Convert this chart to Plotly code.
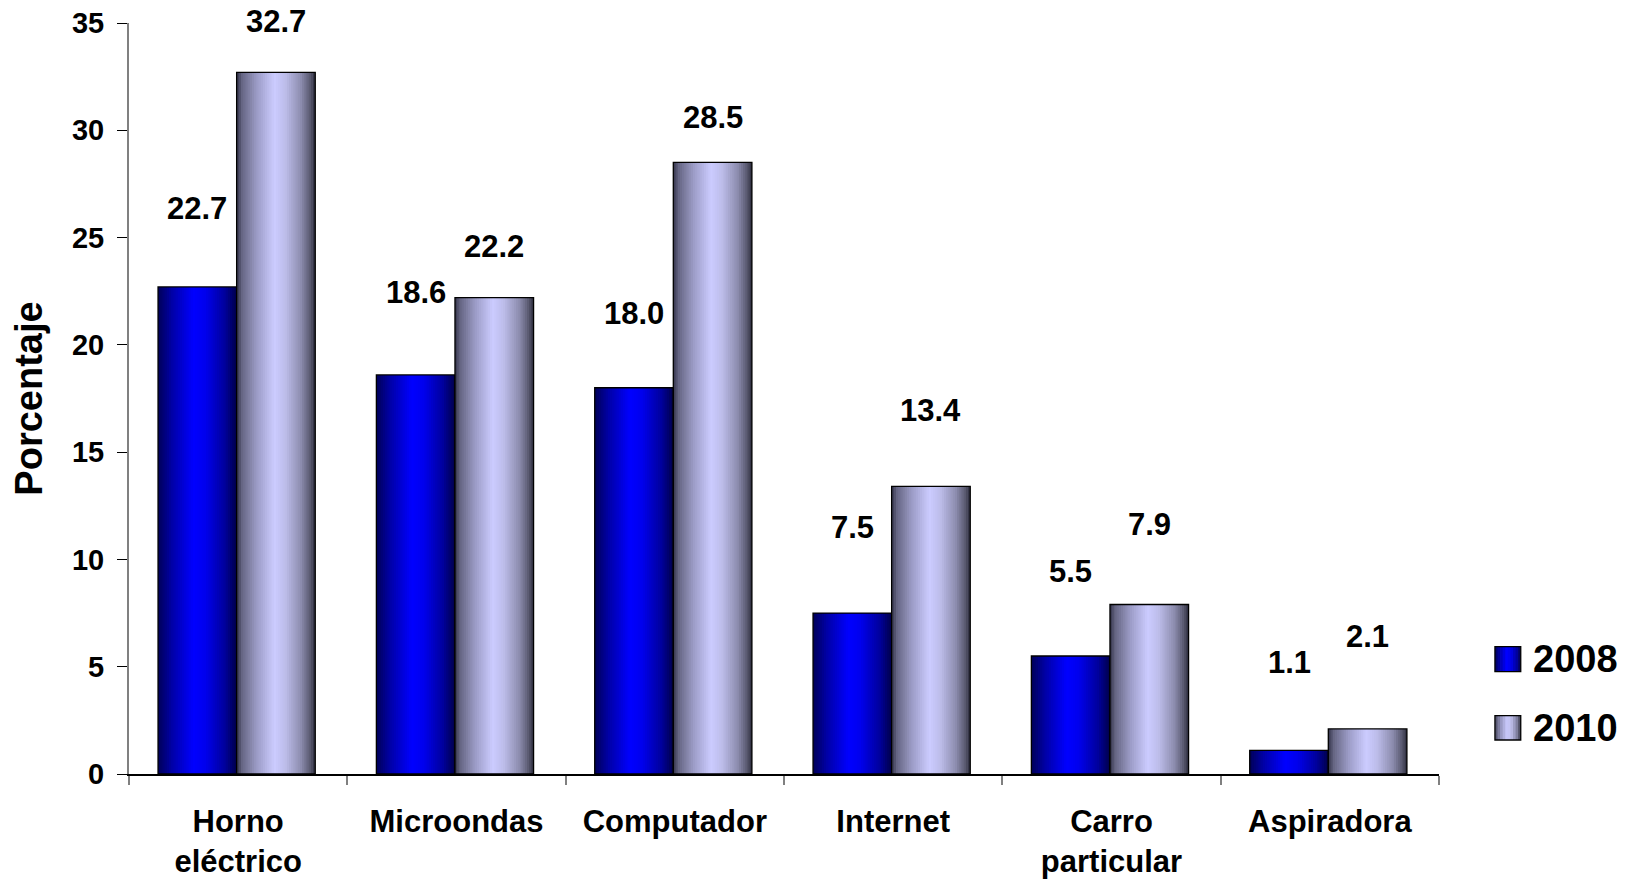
import plotly.graph_objects as go
from plotly.colors import sample_colorscale

# ---- data ----
categories = ["Horno<br>eléctrico", "Microondas", "Computador", "Internet",
              "Carro<br>particular", "Aspiradora"]
series_names = ["2008", "2010"]
values_2008 = [22.7, 18.6, 18.0, 7.5, 5.5, 1.1]
values_2010 = [32.7, 22.2, 28.5, 13.4, 7.9, 2.1]
y_ticks = [0, 5, 10, 15, 20, 25, 30, 35]

# ---- styling ----
FONT = "Liberation Sans, Arial, sans-serif"
scale_2008 = [[0.0, "#000058"], [0.18, "#0000A8"], [0.45, "#0000FF"],
              [0.6, "#0000EE"], [0.85, "#00009C"], [1.0, "#00004A"]]
scale_2010 = [[0.0, "#34344A"], [0.07, "#666684"], [0.25, "#9A9AC4"],
              [0.48, "#CCCCFF"], [0.62, "#BDBDEA"], [0.82, "#8C8CAE"],
              [0.94, "#58586E"], [1.0, "#2C2C3C"]]
bar_w = 0.36
starts = [-0.367, -0.007]
# label offsets (px above bar top) mimicking the original placement
label_shift = {"2008": [78, 82, 74, 86, 84, 88],
               "2010": [51, 51, 45, 76, 80, 92]}
N = 36

fig = go.Figure()
series = [("2008", values_2008, scale_2008), ("2010", values_2010, scale_2010)]
for (name, vals, cs), st in zip(series, starts):
    d = bar_w / N
    cols = sample_colorscale(cs, [(i + 0.5) / N for i in range(N)])
    for i in range(N):
        w = d * 1.7 if i < N - 1 else d
        fig.add_trace(go.Bar(x=categories, y=vals, offset=st + i * d, width=w,
                             marker=dict(color=cols[i], line=dict(width=0)),
                             showlegend=False, hoverinfo="skip"))
    fig.add_trace(go.Bar(x=categories, y=vals, offset=st, width=bar_w, name=name,
                         marker=dict(color="rgba(0,0,0,0)",
                                     line=dict(color="#000000", width=1.3)),
                         showlegend=False))
    for j, (c, v) in enumerate(zip(categories, vals)):
        fig.add_annotation(x=j + st + bar_w / 2, y=v, xref="x", yref="y",
                           text=f"{v:.1f}", showarrow=False, yanchor="middle",
                           yshift=label_shift[name][j],
                           font=dict(family=FONT, size=31, color="#000", weight="bold"))

# ---- manual legend (gradient swatches) ----
leg_x0, leg_x1 = 1.0427, 1.0624
leg_rows = [(0.1362, 0.1695, 0.1531), (0.0453, 0.0776, 0.0612)]
for (name, vals, cs), (y0, y1, yc) in zip(series, leg_rows):
    M = 10
    cols = sample_colorscale(cs, [(i + 0.5) / M for i in range(M)])
    dx = (leg_x1 - leg_x0) / M
    for i in range(M):
        fig.add_shape(type="rect", xref="paper", yref="paper",
                      x0=leg_x0 + i * dx, x1=leg_x0 + (i + 1) * dx + (dx * 0.3 if i < M - 1 else 0),
                      y0=y0, y1=y1, line=dict(width=0), fillcolor=cols[i], layer="above")
    fig.add_shape(type="rect", xref="paper", yref="paper", x0=leg_x0, x1=leg_x1,
                  y0=y0, y1=y1, line=dict(color="#000", width=1.3), layer="above")
    fig.add_annotation(x=1.0703, y=yc, xref="paper", yref="paper", text=name,
                       showarrow=False, xanchor="left", yanchor="middle",
                       font=dict(family=FONT, size=38, color="#000", weight="bold"))

# page body has an 8px margin, so the figure is 8px smaller than the window
fig.update_layout(
    width=1625, height=871, autosize=False,
    margin=dict(l=121, r=194, t=15, b=105, autoexpand=False),
    plot_bgcolor="white", paper_bgcolor="white",
    barmode="overlay", showlegend=False,
    font=dict(family=FONT, color="#000"),
)
fig.update_xaxes(
    type="category", showline=True, linecolor="#000", linewidth=1.5,
    ticks="outside", tickson="boundaries", ticklen=9, tickcolor="#808080", tickwidth=1.5,
    tickfont=dict(family=FONT, size=31, color="#000", weight="bold"),
    ticklabelstandoff=19, automargin=False, ticklabeloverflow="allow",
    showgrid=False, range=[-0.5, len(categories) - 0.5],
)
fig.update_yaxes(
    range=[0, 35], tickvals=y_ticks, showline=True, linecolor="#808080", linewidth=2,
    ticks="outside", ticklen=10, tickcolor="#000", tickwidth=1.2,
    tickfont=dict(family=FONT, size=29, color="#000", weight="bold"),
    ticklabelstandoff=7, automargin=False, ticklabeloverflow="allow",
    showgrid=False, zeroline=False,
    title=dict(text="Porcentaje", standoff=18,
               font=dict(family=FONT, size=38, color="#000", weight="bold")),
)

fig.write_html("out.html")
